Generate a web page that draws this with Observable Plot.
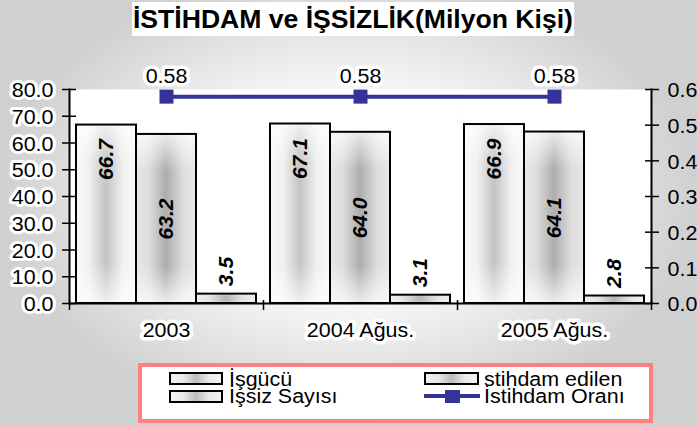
<!DOCTYPE html>
<html><head><meta charset="utf-8">
<script src="https://cdn.jsdelivr.net/npm/d3@7"></script>
<script src="https://cdn.jsdelivr.net/npm/@observablehq/plot@0.6"></script>
<style>
html,body{margin:0;padding:0;}
body{width:697px;height:426px;overflow:hidden;position:relative;
 background: radial-gradient(ellipse farthest-side at 50% 46%, #ffffff 0%, #f8f8f8 45%, #d0d0d0 100%);
 font-family:"Liberation Sans", Arial, Helvetica, sans-serif;}
#title{position:absolute;top:2px;left:4.5px;width:697px;text-align:center;line-height:34px;height:34px;}
#title span{display:inline-block;background:#fff;font-weight:bold;font-size:25px;padding:0 1px;transform:scaleX(1.063);transform-origin:center;}
.chart{position:absolute;left:0;top:40px;}
#legend{position:absolute;left:138px;top:363px;width:507px;height:52px;border:4px solid #ff8080;background:#fff;box-sizing:content-box;}
#legend .sw{position:absolute;box-sizing:border-box;border:2px solid #000;height:13px;
 background:linear-gradient(90deg,#f2f2f2 0%,#e8e8e8 25%,#bdbdbd 50%,#e8e8e8 75%,#f2f2f2 100%);}
#legend .lb{position:absolute;font-size:19.5px;line-height:17px;white-space:nowrap;color:#000;transform:scaleX(1.1);transform-origin:left center;}
#legend .ln{position:absolute;height:4px;background:#333399;}
#legend .mk{position:absolute;width:15px;height:13px;background:#333399;}
</style></head>
<body>
<div id="title"><span>İSTİHDAM ve İŞSİZLİK(Milyon Kişi)</span></div>
<div id="a" class="chart"></div>
<div id="b" class="chart"></div>
<div id="legend"></div>
<script>
const years = ["2003", "2004 Ağus.", "2005 Ağus."];
const seriesNames = ["İşgücü", "İstihdam edilen", "İşsiz Sayısı"];
const isgucu = [66.7, 67.1, 66.9];
const istihdamEdilen = [63.2, 64.0, 64.1];
const issizSayisi = [3.5, 3.1, 2.8];
const istihdamOrani = [0.58, 0.58, 0.58];
const leftTicks = [0, 10, 20, 30, 40, 50, 60, 70, 80];
const rightTicks = [0, 0.1, 0.2, 0.3, 0.4, 0.5, 0.6];
const legendLabels = ["İşgücü", "stihdam edilen", "İşsiz Sayısı", "İstihdam Oranı"];

const W = 697, H = 320, mt = 49, mb = 57, ml = 69, mr = 46;
const step = (W - ml - mr) / years.length;
const font = "'Liberation Sans', Arial, Helvetica, sans-serif";
const ink = "#000";
const lineColor = "#333399";
const fs = 19.5;
const stretchX = 1.1;
const leftMax = leftTicks[leftTicks.length - 1];
const rightMax = rightTicks[rightTicks.length - 1];

const values = [isgucu, istihdamEdilen, issizSayisi];
const rows = years.flatMap((year, i) => values.map((arr, k) => ({year, series: seriesNames[k], value: arr[i], k})));
const rate = years.map((year, i) => ({year, value: istihdamOrani[i]}));

const common = {fx: "year", x: "series", y: "value"};
const barMarks = [0, 1, 2].map(k => Plot.barY(rows.filter(d => d.k === k), {...common, fill: `url(#bar${k})`}));
barMarks.push(Plot.barY(rows, {...common, fill: "url(#vfade)"}));
barMarks.push(Plot.barY(rows, {...common, fill: "none", stroke: ink, strokeWidth: 2}));

const lab = {fx: "year", x: "series", rotate: -90, fontWeight: "bold", fontStyle: "italic", fontSize: 21,
  fill: ink, lineAnchor: "middle", text: d => d.value.toFixed(1)};
const labelMarks = [
  Plot.text(rows.filter(d => d.k === 0), {...lab, y: "value", textAnchor: "end", dy: 14}),
  Plot.text(rows.filter(d => d.k === 1), {...lab, y: d => d.value / 2, textAnchor: "middle"}),
  Plot.text(rows.filter(d => d.k === 2), {...lab, y: "value", textAnchor: "start", dy: -8})
];

const style = {background: "transparent", fontFamily: font, fontSize: "20px", color: ink, overflow: "visible"};

const plotA = Plot.plot({
  width: W, height: H, marginTop: mt, marginBottom: mb, marginLeft: ml, marginRight: mr, style,
  fx: {domain: years, padding: 0, axis: null, label: null},
  x: {domain: seriesNames, paddingInner: 0, paddingOuter: 0.1, axis: null, label: null},
  y: {domain: [0, leftMax], axis: null, label: null},
  marks: [
    Plot.frame({fill: "#fff", stroke: "none"}),
    ...barMarks,
    ...labelMarks,
    Plot.axisY({ticks: leftTicks, anchor: "left", tickSize: 14, dx: 7, tickFormat: () => "", strokeWidth: 1.5, facetAnchor: "left"})
  ]
});
plotA.insertAdjacentHTML("afterbegin", `<defs>
<linearGradient id="bar0" x1="0" y1="0" x2="1" y2="0">
<stop offset="0" stop-color="#f8f8f8"/><stop offset="0.22" stop-color="#f0f0f0"/><stop offset="0.5" stop-color="#c4c4c4"/><stop offset="0.78" stop-color="#f0f0f0"/><stop offset="1" stop-color="#f8f8f8"/>
</linearGradient>
<linearGradient id="bar1" x1="0" y1="0" x2="1" y2="0">
<stop offset="0" stop-color="#e8e8e8"/><stop offset="0.22" stop-color="#dcdcdc"/><stop offset="0.5" stop-color="#adadad"/><stop offset="0.78" stop-color="#dcdcdc"/><stop offset="1" stop-color="#e8e8e8"/>
</linearGradient>
<linearGradient id="bar2" x1="0" y1="0" x2="1" y2="0">
<stop offset="0" stop-color="#f0f0f0"/><stop offset="0.22" stop-color="#e4e4e4"/><stop offset="0.5" stop-color="#b6b6b6"/><stop offset="0.78" stop-color="#e4e4e4"/><stop offset="1" stop-color="#f0f0f0"/>
</linearGradient>
<linearGradient id="vfade" x1="0" y1="0" x2="0" y2="1">
<stop offset="0" stop-color="#fff" stop-opacity="0.75"/><stop offset="0.22" stop-color="#fff" stop-opacity="0"/><stop offset="0.78" stop-color="#fff" stop-opacity="0"/><stop offset="1" stop-color="#fff" stop-opacity="0.75"/>
</linearGradient></defs>`);
document.getElementById("a").appendChild(plotA);

const plotB = Plot.plot({
  width: W, height: H, marginTop: mt, marginBottom: mb, marginLeft: ml, marginRight: mr, style,
  x: {type: "band", domain: years, padding: 0, axis: null, label: null},
  y: {domain: [0, rightMax], axis: null, label: null},
  marks: [
    Plot.axisX({ticks: years, anchor: "bottom", tickSize: 10, dy: -3, dx: step / 2, tickFormat: () => "", strokeWidth: 1.5}),
    Plot.axisX({ticks: years.slice(0, 1), anchor: "bottom", tickSize: 10, dy: -3, dx: -step / 2, tickFormat: () => "", strokeWidth: 1.5}),
    Plot.axisY({ticks: rightTicks, anchor: "right", tickSize: 14, dx: -7, tickFormat: () => "", strokeWidth: 1.5}),
    Plot.frame({anchor: "left", stroke: ink, strokeWidth: 2}),
    Plot.frame({anchor: "right", stroke: ink, strokeWidth: 2}),
    Plot.ruleY([0], {stroke: ink, strokeWidth: 2}),
    Plot.text(leftTicks, {y: d => d * rightMax / leftMax, frameAnchor: "left", dx: -16, dy: 1.5, textAnchor: "end",
      text: d => d.toFixed(1), fontSize: fs, fill: ink, stroke: "#fff", strokeWidth: 6}),
    Plot.text(rightTicks, {y: d => d, frameAnchor: "right", dx: 16, dy: 1.5, textAnchor: "start",
      text: d => d.toFixed(1), fontSize: fs, fill: ink}),
    Plot.text(years, {x: d => d, frameAnchor: "bottom", dy: 33, text: d => d, fontSize: fs, fill: ink, stroke: "#fff", strokeWidth: 7}),
    Plot.lineY(rate, {x: "year", y: "value", stroke: lineColor, strokeWidth: 4}),
    Plot.dot(rate, {x: "year", y: "value", symbol: "square", r: 7.9, fill: lineColor, stroke: "none"}),
    Plot.text(rate, {x: "year", y: "value", dy: -20, text: d => d.value.toFixed(2), fontSize: fs, fill: ink, stroke: "#fff", strokeWidth: 7})
  ]
});
document.getElementById("b").appendChild(plotB);

// widen the axis glyphs horizontally about their anchor point, like the reference picture
plotB.querySelectorAll("text").forEach(t => {
  const tr = t.getAttribute("transform");
  if (t.textContent && tr && !tr.includes("rotate")) t.setAttribute("transform", `${tr} scale(${stretchX},1)`);
});

const lg = document.getElementById("legend");
const items = [
  {label: legendLabels[0], type: "bar", sw: [27, 5, 54], tx: [87, 3.5]},
  {label: legendLabels[1], type: "bar", sw: [282, 5, 55], tx: [341.5, 3.5]},
  {label: legendLabels[2], type: "bar", sw: [27, 23, 54], tx: [87, 20.5]},
  {label: legendLabels[3], type: "line", sw: [282, 27, 56], tx: [341.5, 20.5]}
];
items.forEach(it => {
  if (it.type === "bar") {
    const s = document.createElement("div"); s.className = "sw";
    s.style.left = it.sw[0] + "px"; s.style.top = it.sw[1] + "px"; s.style.width = it.sw[2] + "px";
    lg.appendChild(s);
  } else {
    const l = document.createElement("div"); l.className = "ln";
    l.style.left = it.sw[0] + "px"; l.style.top = it.sw[1] + "px"; l.style.width = it.sw[2] + "px";
    lg.appendChild(l);
    const m = document.createElement("div"); m.className = "mk";
    m.style.left = (it.sw[0] + it.sw[2] / 2 - 7.5) + "px"; m.style.top = (it.sw[1] + 2 - 6.5) + "px";
    lg.appendChild(m);
  }
  const t = document.createElement("div"); t.className = "lb";
  t.style.left = it.tx[0] + "px"; t.style.top = it.tx[1] + "px"; t.textContent = it.label;
  lg.appendChild(t);
});
</script>
</body></html>
